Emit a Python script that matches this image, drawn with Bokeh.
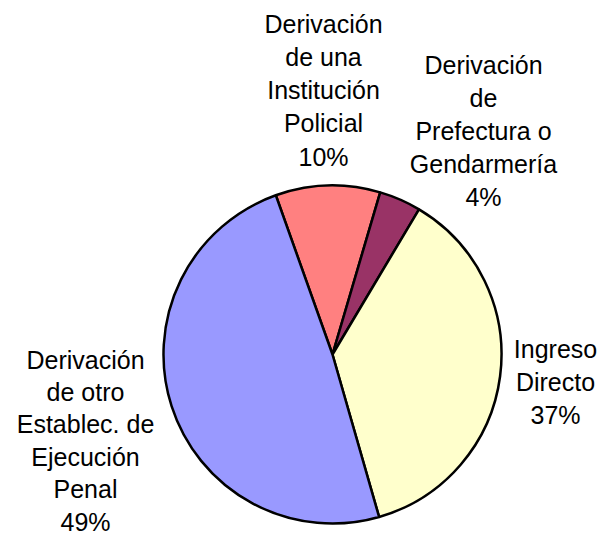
import math
from bokeh.plotting import figure
from bokeh.models import ColumnDataSource, Range1d
from bokeh.core.properties import value
from bokeh.embed import file_html
from bokeh.resources import INLINE

# ---- data ----
categories = [
    "Derivación de una Institución Policial",
    "Derivación de Prefectura o Gendarmería",
    "Ingreso Directo",
    "Derivación de otro Establec. de Ejecución Penal",
]
values = [10, 4, 37, 49]
label_lines = [
    ["Derivación", "de una", "Institución", "Policial"],
    ["Derivación", "de", "Prefectura o", "Gendarmería"],
    ["Ingreso", "Directo"],
    ["Derivación", "de otro", "Establec. de", "Ejecución", "Penal"],
]
colors = ["#FF8080", "#993366", "#FFFFCC", "#9999FF"]

# ---- layout (pixel coords in picture) ----
W, H = 603, 538
cx_px, cy_px, r = 332, 354, 169
start_deg = 109.6  # math angle of first slice start
shift = 9
label_anchor = [(323, 32, 33.3), (483, 73, 33.0), (555, 357, 33.0), (85, 368, 32.4)]

p = figure(width=W, height=H, output_backend="svg", toolbar_location=None,
           x_range=Range1d(0, W), y_range=Range1d(0, H),
           min_border=0, background_fill_color="white", border_fill_color="white")
p.axis.visible = False
p.grid.visible = False
p.outline_line_color = None

total = sum(values)
starts, ends = [], []
a = math.radians(start_deg)
for v in values:
    sweep = v / total * 2 * math.pi
    starts.append(a)
    ends.append(a - sweep)
    a -= sweep

src = ColumnDataSource(dict(start=starts, end=ends, color=colors, cat=categories))
p.wedge(x=cx_px, y=H - cy_px, radius=r, start_angle="start", end_angle="end",
        direction="clock", fill_color="color", line_color="black", line_width=2.5,
        source=src)

xs, ys, txt = [], [], []
for lines, v, (ax, ay, sp) in zip(label_lines, values, label_anchor):
    allines = lines + [f"{v}%"]
    for i, t in enumerate(allines):
        xs.append(ax)
        ys.append(H - (ay - shift + i * sp))
        txt.append(t)

tsrc = ColumnDataSource(dict(x=xs, y=ys, text=txt))
p.text(x="x", y="y", text="text", source=tsrc, text_align="center",
       text_baseline="alphabetic", text_font=value("Liberation Sans"),
       text_font_size="25px", text_color="black")

open("out.html", "w").write(file_html(p, INLINE))
